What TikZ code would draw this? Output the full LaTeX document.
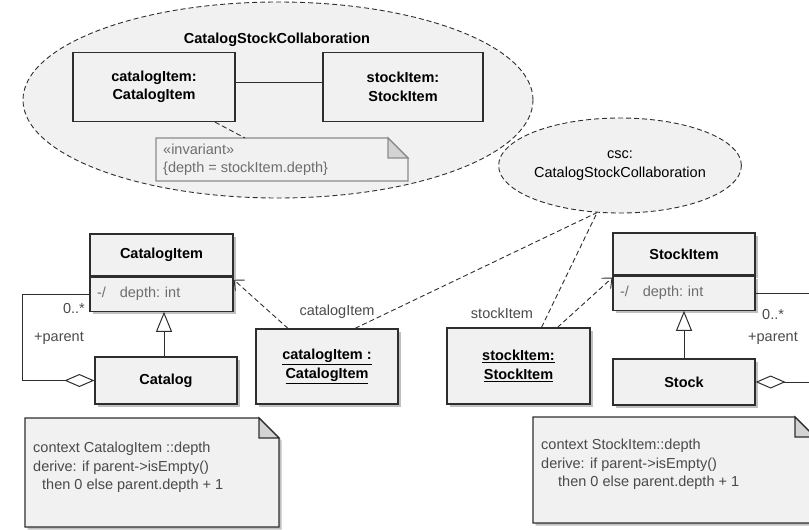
\documentclass[tikz,border=0pt]{standalone}
\usepackage{fontspec}
\setmainfont{Liberation Sans}
\usetikzlibrary{arrows.meta, shapes.geometric, positioning, calc, shadows}
\definecolor{umlfill}{HTML}{F1F1F1}
\definecolor{umlline}{HTML}{2E2E2E}
\definecolor{umlgray}{HTML}{6E6E6E}
\definecolor{labelgray}{HTML}{4A4A4A}
\definecolor{foldgray}{HTML}{D3D3D3}
\newcommand{\umlfont}{\fontsize{14.5}{18.5}\selectfont}

\begin{document}
\begin{tikzpicture}[x=1pt, y=-1pt, font=\umlfont,
  boxshadow/.style={drop shadow={shadow xshift=2.5pt, shadow yshift=-2.5pt, fill=black!55, opacity=.45}},
  cls/.style={rectangle, draw=umlline, fill=umlfill, line width=1.2pt, inner sep=0pt,
              minimum width=143pt, boxshadow},
  clshead/.style={cls, font=\umlfont\bfseries, minimum height=42pt},
  clsattr/.style={cls, minimum height=34pt, text=umlgray, align=left, text width=129pt},
  objbox/.style={cls, font=\umlfont\bfseries, align=center},
  partbox/.style={rectangle, draw=umlline, fill=umlfill, line width=1.2pt, inner sep=0pt,
              minimum width=162pt, minimum height=69pt, font=\umlfont\bfseries, align=center},
  roleoval/.style={ellipse, draw=umlline, fill=umlfill, line width=0.9pt,
              dash pattern=on 5pt off 3pt, inner sep=0pt},
  notebox/.style={draw=umlline, fill=umlfill, line width=1.1pt, line join=miter},
  notefold/.style={draw=umlline, fill=foldgray, line width=1.1pt},
  notetext/.style={anchor=west, align=left, inner sep=0pt},
  lbl/.style={text=labelgray, inner sep=1pt},
  conn/.style={draw=umlline, line width=0.9pt, dash pattern=on 5pt off 3pt},
  dep/.style={conn, -{Straight Barb[length=8pt, width=14pt]}},
  gen/.style={draw=umlline, line width=1pt, -{Triangle[open, length=20pt, width=16pt, fill=white]}},
  aggr/.style={draw=umlline, line width=1pt, -{Diamond[open, length=30pt, width=13pt, fill=white]}}
]
  \useasboundingbox (0,0) rectangle (809,530);
  \clip (0,0) rectangle (809,530);

  % collaboration
  \node[roleoval, minimum width=510pt, minimum height=196pt] (collab) at (278,100) {};
  \node[font=\umlfont\bfseries] (collabname) at (277,40) {CatalogStockCollaboration};
  \node[partbox] (cipart) at (154,87) {catalogItem:\\CatalogItem};
  \node[partbox, minimum width=160pt] (sipart) at (403,87) {stockItem:\\StockItem};
  \draw[draw=umlline, line width=1pt] ([yshift=5pt]cipart.east) -- ([yshift=5pt]sipart.west);

  % invariant note
  \coordinate (invnw) at (156,138);
  \coordinate (invse) at (408,181);
  \draw[notebox, draw=umlgray!80] (invnw) -- ($(invnw -| invse)+(-20,0)$) -- ($(invnw -| invse)+(0,20)$)
    -- (invse) -- (invnw |- invse) -- cycle;
  \draw[notefold, draw=umlgray!80] ($(invnw -| invse)+(-20,0)$) -- ++(0,20) -- ++(20,0) -- cycle;
  \node[notetext, text=umlgray] (inv) at ($(invnw)!0.5!(invnw |- invse)+(7,0)$)
    {«invariant»\\\{depth = stockItem.depth\}};
  \draw[conn] ([xshift=61pt]cipart.south) -- ($(invnw)+(89,0)$);

  % csc role
  \node[roleoval, minimum width=224pt, minimum height=95pt, align=center] (csc) at (620,165.5)
    {csc:\\CatalogStockCollaboration};

  % catalog side
  \node[clshead] (catitem) at (161.5,255) {CatalogItem};
  \node[clsattr, below=0pt of catitem] (catattr) {-/\hspace{14pt}depth:\ int};
  \node[cls, minimum width=142pt, minimum height=47pt, font=\umlfont\bfseries] (catalog) at (166,380.5) {Catalog};
  \node[objbox, minimum width=142pt, minimum height=75pt] (catobj) at (327,366.5)
    {\underline{catalogItem :}\\\underline{CatalogItem}};

  % stock side
  \node[clshead, minimum width=142pt] (stitem) at (684,254) {StockItem};
  \node[clsattr, minimum width=142pt, text width=128pt, below=0pt of stitem] (stattr) {-/\hspace{14pt}depth:\ int};
  \node[cls, minimum width=142pt, minimum height=46pt, font=\umlfont\bfseries] (stock) at (684,382) {Stock};
  \node[objbox, minimum height=76pt] (stobj) at (518.5,366)
    {\underline{stockItem:}\\\underline{StockItem}};

  % generalizations and self associations
  \draw[gen] ([xshift=-2pt]catalog.north) -- ([xshift=-2pt]catalog.north |- catattr.south);
  \draw[gen] (stock.north) -- (stock.north |- stattr.south);
  \draw[aggr] (catattr.west) -- ++(-67,0) |- (catalog.west);
  \draw[aggr] (stattr.east) -- ++(58,0) |- (stock.east);
  \node[lbl, anchor=east] (catmult) at (86,309) {0..*};
  \node[lbl] (catrole) at (59,338) {+parent};
  \node[lbl, anchor=west] (stmult) at (761,315) {0..*};
  \node[lbl] (strole) at (773,338) {+parent};

  % bindings
  \draw[dep] ([xshift=-39pt]catobj.north) -- ([yshift=-3pt]catattr.north east);
  \draw[dep] ([xshift=39pt]stobj.north) -- ([yshift=-2pt]stattr.north west);
  \draw[conn] ([xshift=28pt]catobj.north) -- (csc.244);
  \draw[conn] ([xshift=23pt]stobj.north) -- (csc.244);
  \node[lbl] (catrolename) at (337,312) {catalogItem};
  \node[lbl] (strolename) at (502,313) {stockItem};

  % derivation notes
  \coordinate (lnw) at (25,418);
  \coordinate (lse) at (279,527);
  \draw[notebox, boxshadow] (lnw) -- ($(lnw -| lse)+(-20,0)$) -- ($(lnw -| lse)+(0,20)$)
    -- (lse) -- (lnw |- lse) -- cycle;
  \draw[notefold] ($(lnw -| lse)+(-20,0)$) -- ++(0,20) -- ++(20,0) -- cycle;
  \node[notetext, anchor=north west, text=labelgray] (lnote) at ($(lnw)+(8,24)$)
    {context CatalogItem ::depth\\derive: if parent->isEmpty()\\\hspace*{9pt}then 0 else parent.depth + 1};

  \coordinate (rnw) at (533,417);
  \coordinate (rse) at (815,523);
  \draw[notebox, boxshadow] (rnw) -- ($(rnw -| rse)+(-20,0)$) -- ($(rnw -| rse)+(0,20)$)
    -- (rse) -- (rnw |- rse) -- cycle;
  \draw[notefold] ($(rnw -| rse)+(-20,0)$) -- ++(0,20) -- ++(20,0) -- cycle;
  \node[notetext, anchor=north west, text=labelgray] (rnote) at ($(rnw)+(8,22)$)
    {context StockItem::depth\\derive: if parent->isEmpty()\\\hspace*{17pt}then 0 else parent.depth + 1};
\end{tikzpicture}
\end{document}
